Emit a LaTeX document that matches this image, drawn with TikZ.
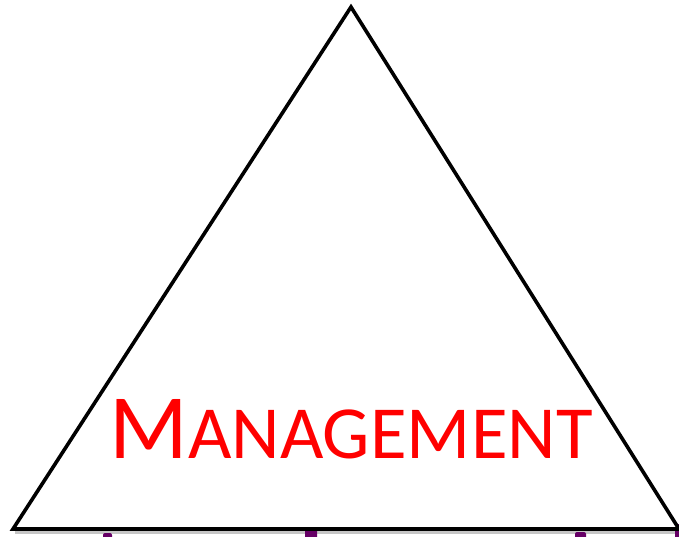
\documentclass[tikz,border=0pt]{standalone}
\usepackage{fontspec}
\setmainfont{Carlito}
\usepackage{xcolor}
\usetikzlibrary{calc,positioning}
\definecolor{mgmtred}{rgb}{1,0,0}
\definecolor{darkpurple}{rgb}{0.4,0,0.4}

\begin{document}
\begin{tikzpicture}[x=1pt,y=-1pt]
            \useasboundingbox (0,0) rectangle (679,537);
            \coordinate (top) at (351,7);
            \coordinate (left) at (13,529);
            \coordinate (right) at (679,529);
            %Shadow
            \draw[line width=3pt,gray!45] ($(left)+(2,3.5)$) -- ($(right)+(2,3.5)$);
            %Purple ticks
            \fill[darkpurple,rounded corners=2pt] (103,533) rectangle (112,545);
            \fill[darkpurple,rounded corners=2pt] (305,523) rectangle (317,545);
            \fill[darkpurple,rounded corners=2pt] (575,532) rectangle (586,545);
            \fill[darkpurple,rounded corners=2pt] (675,524) rectangle (686,545);
            %Triangle
            \draw[line width=3.6pt,line join=miter,fill=white] (top) -- (right) -- (left) -- cycle;
            %Label
            \node[mgmtred,inner sep=0pt,anchor=base] (mgmt) at (351,458)
                {\fontsize{92}{92}\selectfont M\fontsize{75}{75}\selectfont ANAGEMENT};
\end{tikzpicture}
\end{document}
